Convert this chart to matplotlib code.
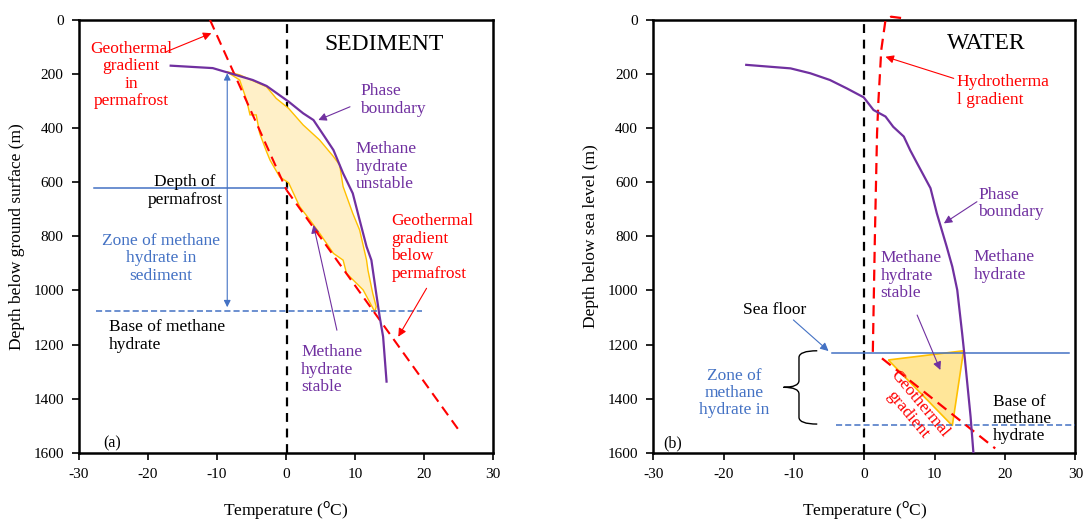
import numpy as np
import matplotlib
matplotlib.use("Agg")
import matplotlib.pyplot as plt
from matplotlib.path import Path
from matplotlib.patches import PathPatch

plt.rcParams['font.family'] = ['Liberation Serif', 'DejaVu Serif']
plt.rcParams['axes.unicode_minus'] = False

RED = '#FF0000'
PURPLE = '#7030A0'
BLUE = '#4472C4'
ORANGE = '#FFC000'
FILL_A = '#FFF0C8'
FILL_B = '#FFE699'

# ---- panel (a) sediment ----
phase_a_T = [-16.7, -10.6, -7.7, -4.8, -2.8, 0.4, 2.5, 4.0, 5.6, 6.9, 8.3, 9.7, 10.7, 11.7, 12.4, 13.1, 13.6, 14.1, 14.6]
phase_a_D = [169, 178, 200, 222, 244, 302, 345, 370, 431, 481, 567, 641, 740, 838, 888, 1011, 1097, 1171, 1337]

geo_perma_T = [-11.0, 0.1]
geo_perma_D = [0, 629]
geo_below_T = [0.1, 25.4]
geo_below_D = [629, 1528]

zone_a_T = [-8.6, -6.7, -2.8, -1.4, 0.4, 2.5, 4.9, 6.9, 7.8, 8.3, 9.7, 10.7, 11.7, 11.9, 12.6, 13.1, 12.9,
            11.2, 8.8, 8.3, 6.9, 4.9, 3.5, 2.0, 0.4, -0.9, -2.3, -2.8, -3.8, -4.3, -5.2, -5.7, -6.7]
zone_a_D = [191, 203, 247, 290, 327, 388, 444, 505, 536, 616, 715, 777, 888, 925, 1011, 1060, 1079,
            998, 937, 888, 863, 789, 740, 690, 602, 580, 518, 487, 419, 351, 351, 296, 222]

perma_depth = 620
perma_T = [-27.8, 0.1]
base_a_depth = 1075
base_a_T = [-27.6, 19.7]

# ---- panel (b) water ----
phase_b_T = [-16.8, -10.5, -7.7, -4.9, -2.5, -0.1, 1.3, 3.0, 4.1, 5.6, 6.5, 7.5, 9.4, 10.3, 11.7, 12.5, 13.2, 13.9, 14.3, 15.1, 15.5]
phase_b_D = [166, 179, 197, 222, 253, 286, 333, 357, 395, 431, 481, 530, 622, 715, 838, 912, 998, 1159, 1257, 1467, 1600]

hydro_T = [1.2, 1.5, 1.8, 2.0, 2.4, 3.0, 3.8, 5.6]
hydro_D = [1227, 789, 419, 296, 111, 0, -12, -6]

geo_b_T = [2.5, 18.6]
geo_b_D = [1251, 1584]

tri_T = [3.4, 14.1, 12.5]
tri_D = [1257, 1223, 1500]

seafloor_depth = 1231
seafloor_T = [-4.6, 29.1]
base_b_depth = 1499
base_b_T = [-4.05, 30]

brace_T = [-6.7, -9.3, -11.5]
brace_D = [1223, 1358, 1494]

xticks = [-30, -20, -10, 0, 10, 20, 30]
yticks = [0, 200, 400, 600, 800, 1000, 1200, 1400, 1600]

fig = plt.figure(figsize=(10.89, 5.21), dpi=100)
ax1 = fig.add_axes([0.0725, 0.131, 0.380, 0.8307])
ax2 = fig.add_axes([0.600, 0.131, 0.3875, 0.8307])

for ax in (ax1, ax2):
    ax.set_xlim(-30, 30)
    ax.set_ylim(1600, 0)
    ax.set_xticks(xticks)
    ax.set_yticks(yticks)
    ax.tick_params(labelsize=11, length=5, width=1.2, direction='out', pad=6)
    for s in ax.spines.values():
        s.set_linewidth(1.8)
    ax.set_xlabel('Temperature ($^{\\rm o}$C)', fontsize=12.5, labelpad=13)
    ax.axvline(0.2 if ax is ax1 else 0, color='black', ls=(0, (4, 3)), lw=1.6, zorder=2)

# panel (a)
ax1.fill(zone_a_T, zone_a_D, facecolor=FILL_A, edgecolor=ORANGE, lw=1.0, zorder=3)
ax1.plot(geo_perma_T, geo_perma_D, color=RED, ls=(0, (5, 3)), lw=1.5, zorder=4)
ax1.plot(geo_below_T, geo_below_D, color=RED, ls=(0, (5, 3)), lw=1.5, zorder=4)
ax1.plot(phase_a_T, phase_a_D, color=PURPLE, lw=1.6, zorder=5)
ax1.plot(perma_T, [perma_depth] * 2, color=BLUE, lw=1.1, zorder=3)
ax1.plot(base_a_T, [base_a_depth] * 2, color=BLUE, lw=1.1, ls=(0, (4, 2)), zorder=3)
ax1.annotate('', xy=(-8.5, 197), xytext=(-8.5, 1062),
             arrowprops=dict(arrowstyle='<|-|>', color=BLUE, lw=0.8, mutation_scale=10, shrinkA=0, shrinkB=0))

arr = dict(arrowstyle='-|>', lw=0.8, mutation_scale=12, shrinkA=0, shrinkB=0)
ax1.annotate('', xy=(-10.8, 49), xytext=(-17.3, 117), arrowprops=dict(arr, color=RED))
ax1.annotate('', xy=(16.3, 1171), xytext=(20.4, 992), arrowprops=dict(arr, color=RED))
ax1.annotate('', xy=(4.7, 370), xytext=(9.3, 321), arrowprops=dict(arr, color=PURPLE))
ax1.annotate('', xy=(4.0, 758), xytext=(7.4, 1147), arrowprops=dict(arr, color=PURPLE))

fs = 12.5
ax1.text(14.3, 92, 'SEDIMENT', fontsize=17, ha='center', va='center')
ax1.text(-22.4, 203, 'Geothermal\ngradient\nin\npermafrost', color=RED, fontsize=fs, ha='center', va='center', linespacing=1.12)
ax1.text(10.8, 296, 'Phase\nboundary', color=PURPLE, fontsize=fs, ha='left', va='center', linespacing=1.12)
ax1.text(10.1, 542, 'Methane\nhydrate\nunstable', color=PURPLE, fontsize=fs, ha='left', va='center', linespacing=1.12)
ax1.text(15.3, 841, 'Geothermal\ngradient\nbelow\npermafrost', color=RED, fontsize=fs, ha='left', va='center', linespacing=1.12)
ax1.text(-14.6, 632, 'Depth of\npermafrost', color='black', fontsize=fs, ha='center', va='center', linespacing=1.12)
ax1.text(-18.1, 881, 'Zone of methane\nhydrate in\nsediment', color=BLUE, fontsize=fs, ha='center', va='center', linespacing=1.12)
ax1.text(-25.6, 1169, 'Base of methane\nhydrate', color='black', fontsize=fs, ha='left', va='center', linespacing=1.12)
ax1.text(2.2, 1293, 'Methane\nhydrate\nstable', color=PURPLE, fontsize=fs, ha='left', va='center', linespacing=1.12)
ax1.text(-25.2, 1565, '(a)', fontsize=11.5, ha='center', va='center')
ax1.set_ylabel('Depth below ground surface (m)', fontsize=12.5, labelpad=6)

# panel (b)
ax2.plot(hydro_T, hydro_D, color=RED, ls=(0, (5, 3)), lw=1.6, zorder=4, clip_on=False)
ax2.fill(tri_T, tri_D, facecolor=FILL_B, edgecolor=ORANGE, lw=1.2, zorder=3)
ax2.plot(geo_b_T, geo_b_D, color=RED, ls=(0, (5, 3)), lw=1.6, zorder=4)
ax2.plot(phase_b_T, phase_b_D, color=PURPLE, lw=1.6, zorder=5)
ax2.plot(seafloor_T, [seafloor_depth] * 2, color=BLUE, lw=1.1, zorder=3)
ax2.plot(base_b_T, [base_b_depth] * 2, color=BLUE, lw=1.1, ls=(0, (4, 2)), zorder=3)

# curly brace
bt, bs, bp = brace_T
d0, dm, d1 = brace_D
verts = [(bt, d0), (bs, d0), (bs, d0 + 25), (bs, dm - 25),
         (bs, dm - 25), (bs, dm), (bp, dm),
         (bp, dm), (bs, dm), (bs, dm + 25),
         (bs, d1 - 25), (bs, d1), (bt, d1)]
codes = [Path.MOVETO, Path.CURVE3, Path.CURVE3, Path.LINETO,
         Path.LINETO, Path.CURVE3, Path.CURVE3,
         Path.MOVETO, Path.CURVE3, Path.CURVE3,
         Path.LINETO, Path.CURVE3, Path.CURVE3]
ax2.add_patch(PathPatch(Path(verts, codes), facecolor='none', edgecolor='black', lw=1.0, clip_on=False))

ax2.annotate('', xy=(3.0, 136), xytext=(12.7, 216), arrowprops=dict(arr, color=RED))
ax2.annotate('', xy=(11.3, 752), xytext=(16.0, 672), arrowprops=dict(arr, color=PURPLE))
ax2.annotate('', xy=(10.8, 1294), xytext=(7.5, 1091), arrowprops=dict(arr, color=PURPLE))
ax2.annotate('', xy=(-5.1, 1224), xytext=(-10.1, 1109), arrowprops=dict(arr, color=BLUE))

ax2.text(17.4, 86, 'WATER', fontsize=17, ha='center', va='center')
ax2.text(13.1, 262, 'Hydrotherma\nl gradient', color=RED, fontsize=fs, ha='left', va='center', linespacing=1.12)
ax2.text(16.2, 678, 'Phase\nboundary', color=PURPLE, fontsize=fs, ha='left', va='center', linespacing=1.12)
ax2.text(2.3, 946, 'Methane\nhydrate\nstable', color=PURPLE, fontsize=fs, ha='left', va='center', linespacing=1.12)
ax2.text(15.5, 910, 'Methane\nhydrate', color=PURPLE, fontsize=fs, ha='left', va='center', linespacing=1.12)
ax2.text(-12.7, 1072, 'Sea floor', color='black', fontsize=fs, ha='center', va='center')
ax2.text(-18.5, 1379, 'Zone of\nmethane\nhydrate in', color=BLUE, fontsize=fs, ha='center', va='center', linespacing=1.12)
ax2.text(18.3, 1475, 'Base of\nmethane\nhydrate', color='black', fontsize=fs, ha='left', va='center', linespacing=1.1)
ax2.text(7.0, 1439, 'Geothermal\ngradient', color=RED, fontsize=fs, ha='center', va='center',
         rotation=-50, rotation_mode='anchor', linespacing=1.0, zorder=6)
ax2.text(-27.3, 1565, '(b)', fontsize=11.5, ha='center', va='center')
ax2.set_ylabel('Depth below sea level (m)', fontsize=12.5, labelpad=6)

fig.savefig('out.png', dpi=100)
